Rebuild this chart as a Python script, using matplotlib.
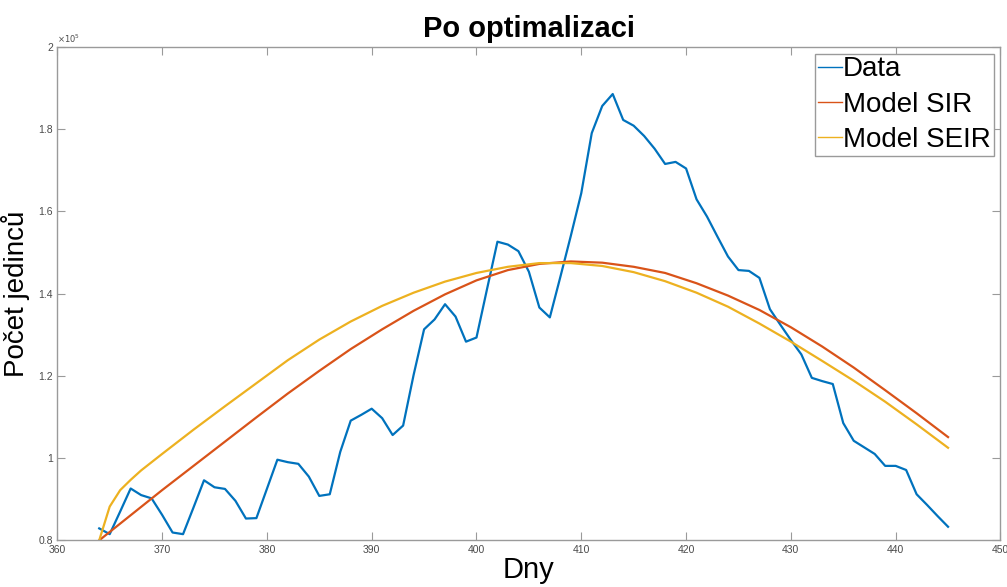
import matplotlib
matplotlib.use("Agg")
import matplotlib.pyplot as plt
from matplotlib.ticker import FuncFormatter, MultipleLocator

plt.rcParams["font.family"] = ["Liberation Sans", "DejaVu Sans"]

# Observed daily counts
days = list(range(364, 446))
data = [
    82900, 81500, 87000, 92600, 91000, 90200, 86200, 81900, 81500, 88000,
    94600, 92900, 92500, 89600, 85300, 85400, 92500, 99600, 99000, 98600,
    95500, 90800, 91200, 101500, 109100, 110500, 112000, 109700, 105600, 107900,
    120200, 131300, 133700, 137400, 134400, 128300, 129300, 141000, 152600, 151900,
    150300, 145300, 136600, 134200, 144000, 154000, 164400, 179000, 185600, 188500,
    182200, 180800, 178300, 175200, 171500, 172000, 170400, 162900, 158700, 153800,
    149000, 145700, 145500, 143800, 136200, 132400, 128700, 125200, 119500, 118700,
    118000, 108500, 104200, 102600, 101000, 98100, 98100, 97100, 91200, 88600,
    85900, 83300,
]

# Fitted SIR model
sir_days = [364, 367, 370, 373, 376, 379, 382, 385, 388, 391, 394, 397, 400, 403,
            406, 409, 412, 415, 418, 421, 424, 427, 430, 433, 436, 439, 442, 445]
sir = [80000, 86100, 92200, 98100, 104000, 109900, 115700, 121200, 126500, 131300,
       135800, 139800, 143200, 145700, 147200, 147800, 147500, 146500, 145000, 142500,
       139500, 136000, 131800, 127100, 122000, 116500, 110900, 105100]

# Fitted SEIR model
seir_days = [364, 365, 366, 367, 368, 370, 373, 376, 379, 382, 385, 388, 391, 394,
             397, 400, 403, 406, 409, 412, 415, 418, 421, 424, 427, 430, 433, 436,
             439, 442, 445]
seir = [80000, 88200, 92200, 94700, 97000, 101000, 106900, 112600, 118200, 123800,
        128800, 133200, 137000, 140200, 142900, 145000, 146500, 147400, 147400, 146700,
        145200, 143000, 140200, 136800, 132700, 128300, 123600, 118800, 113700, 108200,
        102500]

labels = ["Data", "Model SIR", "Model SEIR"]
colors = ["#0072BD", "#D95319", "#EDB120"]

fig = plt.figure(figsize=(10.07, 5.87), dpi=100)
ax = fig.add_axes([0.0569, 0.0795, 0.9366, 0.8409])

ax.plot(days, data, color=colors[0], lw=1.6, label=labels[0])
ax.plot(sir_days, sir, color=colors[1], lw=1.6, label=labels[1])
ax.plot(seir_days, seir, color=colors[2], lw=1.6, label=labels[2])

ax.set_xlim(360, 450)
ax.set_ylim(80000, 200000)
ax.xaxis.set_major_locator(MultipleLocator(10))
ax.yaxis.set_major_locator(MultipleLocator(20000))
ax.yaxis.set_major_formatter(FuncFormatter(lambda v, p: f"{v / 1e5:g}"))

axis_color = "#9a9a9a"
for s in ax.spines.values():
    s.set_color(axis_color)
    s.set_linewidth(1.0)
ax.tick_params(direction="in", length=6, width=0.8, color=axis_color,
               labelsize=7.5, labelcolor="#4a4a4a", top=True, right=True, pad=3)

ax.text(0.0, 1.004, r"$\times10^{5}$", transform=ax.transAxes, fontsize=6,
        color="#4a4a4a", ha="left", va="bottom")

ax.set_title("Po optimalizaci", fontsize=21, fontweight="bold", pad=7)
ax.set_xlabel("Dny", fontsize=21, labelpad=1)
ax.set_ylabel("Počet jedinců", fontsize=20, labelpad=6)

leg = ax.legend(loc="upper right", fontsize=20, fancybox=False, framealpha=1,
                edgecolor=axis_color, handlelength=0.85, handletextpad=0.05,
                borderpad=0.1, labelspacing=0.33, borderaxespad=0.25)
for line in leg.get_lines():
    line.set_linewidth(1.0)

fig.savefig("out.png", dpi=100)
